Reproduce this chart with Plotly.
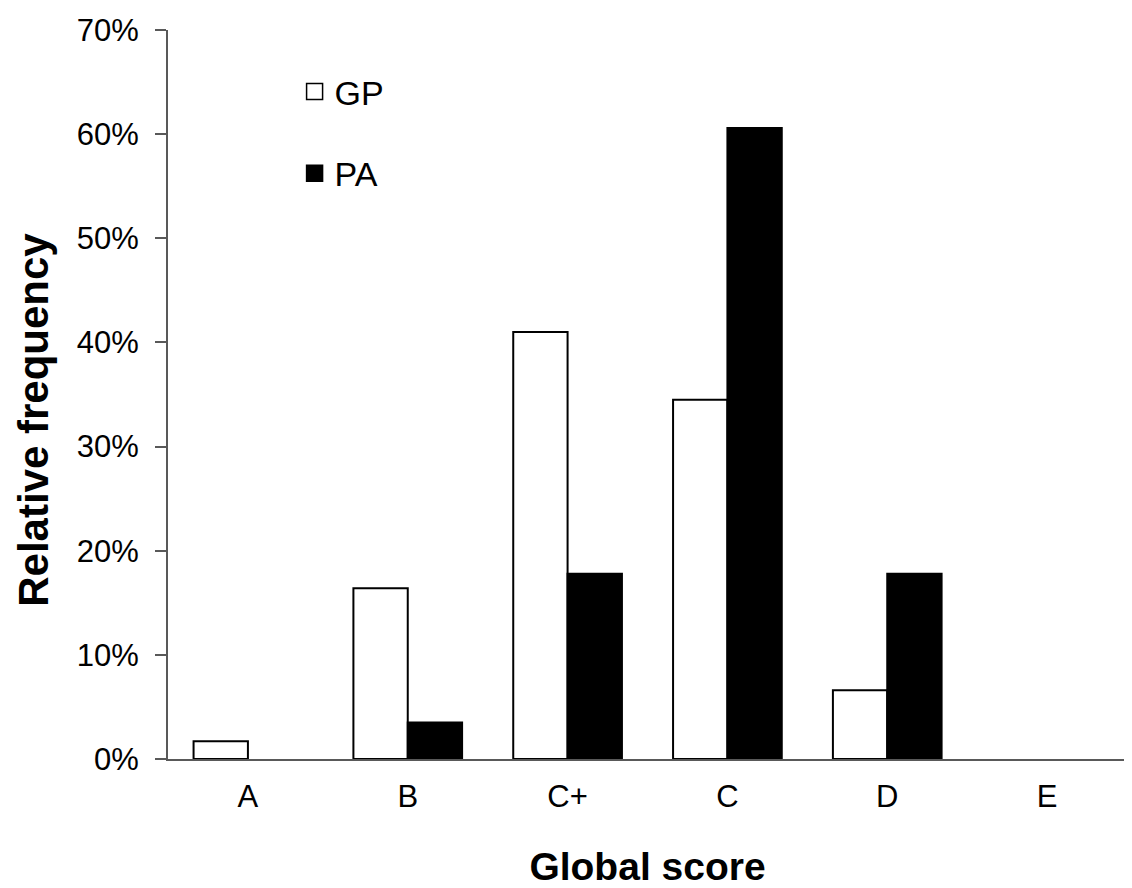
import plotly.graph_objects as go

categories = ["A", "B", "C+", "C", "D", "E"]
gp_values = [1.7, 16.4, 41.0, 34.5, 6.6, 0.0]
pa_values = [0.0, 3.5, 17.8, 60.6, 17.8, 0.0]
y_tick_vals = [0, 10, 20, 30, 40, 50, 60, 70]
y_tick_text = ["0%", "10%", "20%", "30%", "40%", "50%", "60%", "70%"]

FONT = "Liberation Sans, Arial, sans-serif"


def nz(vals):
    # zero-height bars are not drawn in the reference (no outline)
    return [v if v > 0 else None for v in vals]


fig = go.Figure()
fig.add_trace(go.Bar(
    x=categories, y=nz(gp_values), name="GP",
    marker=dict(color="white", line=dict(color="black", width=2)),
    showlegend=False,
))
fig.add_trace(go.Bar(
    x=categories, y=nz(pa_values), name="PA",
    marker=dict(color="black", line=dict(color="black", width=2)),
    showlegend=False,
))
# legend proxies (larger square symbols like the reference)
fig.add_trace(go.Scatter(
    x=[None], y=[None], mode="markers", name="GP",
    marker=dict(symbol="square", size=16, color="white",
                line=dict(color="black", width=1.5)),
    legend="legend", showlegend=True,
))
fig.add_trace(go.Scatter(
    x=[None], y=[None], mode="markers", name="PA",
    marker=dict(symbol="square", size=16, color="black",
                line=dict(color="black", width=1.5)),
    legend="legend2", showlegend=True,
))

fig.update_layout(
    width=1124, height=880,
    margin=dict(l=160, r=5, t=17, b=126),
    paper_bgcolor="white", plot_bgcolor="white",
    barmode="group", bargap=0.32, bargroupgap=0,
    showlegend=True,
    font=dict(family=FONT, size=31, color="black"),
    legend=dict(x=0.132, y=0.915, xanchor="left", yanchor="middle",
                font=dict(size=34), bgcolor="rgba(0,0,0,0)", itemwidth=30),
    legend2=dict(x=0.132, y=0.803, xanchor="left", yanchor="middle",
                 font=dict(size=34), bgcolor="rgba(0,0,0,0)", itemwidth=30),
    xaxis=dict(
        showline=True, linecolor="#595959", linewidth=2,
        ticks="", showgrid=False, zeroline=False,
        tickfont=dict(size=31), ticklabelstandoff=9,
        title=dict(text="<b>Global score</b>", font=dict(size=39), standoff=41),
    ),
    yaxis=dict(
        range=[0, 70], tickvals=y_tick_vals, ticktext=y_tick_text,
        showline=True, linecolor="#595959", linewidth=2,
        ticks="outside", ticklen=11, tickcolor="#595959", tickwidth=2,
        showgrid=False, zeroline=False, ticklabeloverflow="allow",
        tickfont=dict(size=31), ticklabelstandoff=10,
    ),
    annotations=[dict(
        text="<b>Relative frequency</b>", textangle=-90,
        xref="paper", yref="paper", x=-0.141, y=0.465,
        xanchor="center", yanchor="middle", showarrow=False,
        font=dict(size=42, family=FONT, color="black"),
    )],
)

fig.write_html("out.html")
